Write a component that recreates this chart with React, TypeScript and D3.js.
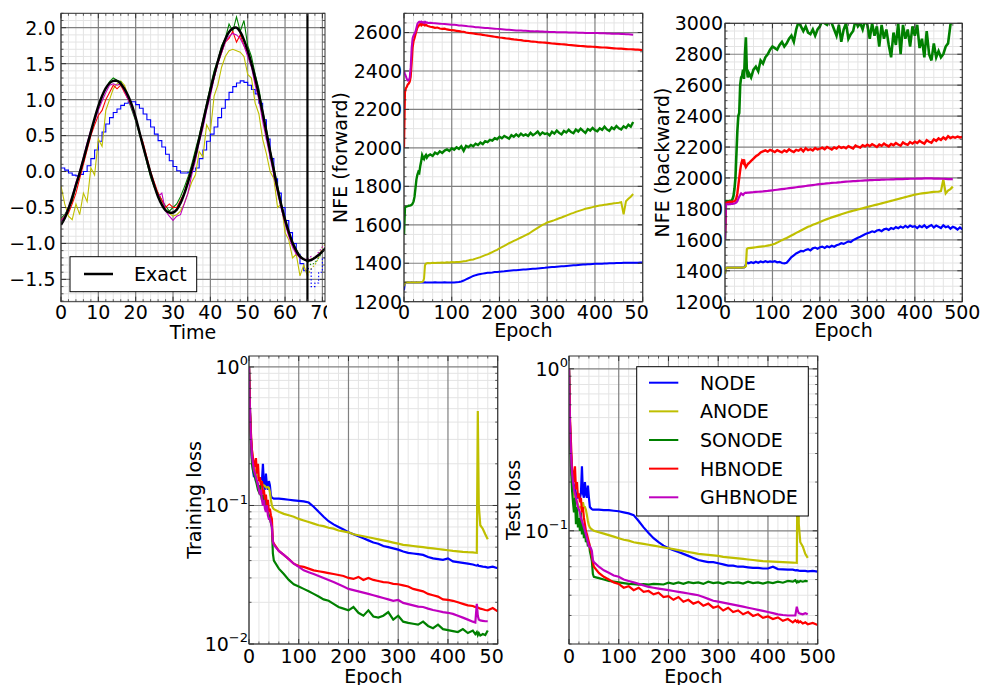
import React from 'react';
import * as d3 from 'd3';

const FONT = "'DejaVu Sans', sans-serif";
const NAMES = ['NODE', 'ANODE', 'SONODE', 'HBNODE', 'GHBNODE'];
const COLORS = ['#0000ff', '#bfbf00', '#008000', '#ff0000', '#bf00bf'];

// ---------- Panel 1: time series ----------
const TIME_STEPS = [0,1,2,3,4,5,6,7,8,9,10,11,12,13,14,15,16,17,18,19,20,21,22,23,24,25,26,27,28,29,30,31,32,33,34,35,36,37,38,39,40,41,42,43,44,45,46,47,48,49,50,51,52,53,54,55,56,57,58,59,60,61,62,63,64,65,66,67,68,69,70,71];
const EXTRAP_START = 66;
const EXACT = [-0.74,-0.65,-0.52,-0.36,-0.19,-0.02,0.17,0.36,0.55,0.74,0.91,1.05,1.16,1.23,1.26,1.26,1.22,1.15,1.05,0.92,0.75,0.55,0.35,0.16,-0.03,-0.2,-0.35,-0.46,-0.54,-0.57,-0.57,-0.53,-0.44,-0.31,-0.15,0.03,0.23,0.45,0.68,0.91,1.13,1.34,1.53,1.7,1.84,1.94,1.99,2.0,1.94,1.83,1.68,1.5,1.3,1.07,0.82,0.55,0.28,0.02,-0.24,-0.47,-0.67,-0.84,-0.99,-1.1,-1.18,-1.22,-1.24,-1.23,-1.2,-1.16,-1.11,-1.06];
const NODE_T = [0.05,0.02,-0.02,-0.05,-0.06,-0.04,0.0,0.08,0.18,0.3,0.42,0.55,0.66,0.75,0.82,0.87,0.92,0.95,0.97,0.97,0.93,0.88,0.8,0.72,0.62,0.52,0.43,0.34,0.24,0.15,0.07,0.01,-0.02,-0.02,-0.01,0.0,0.05,0.18,0.3,0.42,0.52,0.62,0.75,0.88,1.0,1.1,1.18,1.23,1.26,1.24,1.2,1.14,1.08,0.95,0.72,0.45,0.18,-0.1,-0.3,-0.5,-0.68,-0.85,-1.0,-1.15,-1.28,-1.38,-1.35,-1.6,-1.55,-1.4,-1.2,-1.1];
const ANODE_T = [-0.2,-0.45,-0.62,-0.67,-0.45,-0.6,-0.3,-0.42,0.05,-0.05,0.45,0.35,0.85,1.0,1.15,1.22,1.26,1.2,1.05,0.9,0.74,0.55,0.35,0.15,-0.05,-0.22,-0.35,-0.45,-0.53,-0.58,-0.62,-0.6,-0.55,-0.45,-0.3,-0.15,-0.05,0.28,0.2,0.65,0.55,1.05,1.2,1.45,1.6,1.68,1.7,1.68,1.66,1.6,1.35,1.3,0.95,0.8,0.45,0.25,0.0,-0.1,-0.5,-0.45,-0.85,-0.95,-1.2,-1.15,-1.45,-1.3,-1.45,-1.35,-1.3,-1.2,-1.05,-1.0];
const SONODE_T = [-0.65,-0.6,-0.5,-0.42,-0.2,-0.05,0.15,0.35,0.55,0.72,0.9,1.05,1.15,1.25,1.3,1.27,1.25,1.14,1.0,0.85,0.7,0.52,0.33,0.12,-0.08,-0.22,-0.3,-0.4,-0.48,-0.55,-0.5,-0.45,-0.35,-0.22,-0.08,0.1,0.3,0.5,0.72,0.95,1.18,1.4,1.55,1.75,1.85,2.05,1.95,2.15,1.95,2.1,1.75,1.6,1.35,1.15,0.85,0.6,0.3,0.05,-0.2,-0.45,-0.65,-0.85,-0.98,-1.08,-1.18,-1.22,-1.25,-1.3,-1.27,-1.2,-1.12,-1.05];
const HBNODE_T = [-0.68,-0.62,-0.58,-0.45,-0.3,-0.1,0.1,0.3,0.5,0.65,0.78,0.85,1.0,1.1,1.2,1.15,1.2,1.1,1.0,0.9,0.75,0.55,0.4,0.2,0.0,-0.15,-0.3,-0.4,-0.5,-0.45,-0.5,-0.5,-0.4,-0.3,-0.12,0.05,0.25,0.45,0.7,0.9,1.1,1.3,1.5,1.65,1.8,1.85,1.95,1.8,1.9,1.75,1.65,1.5,1.25,1.05,0.8,0.5,0.25,0.0,-0.25,-0.5,-0.7,-0.88,-1.02,-1.12,-1.2,-1.22,-1.23,-1.22,-1.2,-1.15,-1.1,-1.05];
const GHBNODE_T = [-0.7,-0.62,-0.5,-0.35,-0.15,0.0,0.2,0.4,0.58,0.7,0.85,0.98,1.1,1.2,1.22,1.2,1.22,1.12,1.0,0.88,0.72,0.55,0.35,0.15,-0.05,-0.2,-0.35,-0.3,-0.55,-0.62,-0.68,-0.62,-0.6,-0.45,-0.3,-0.05,0.15,0.4,0.6,0.85,1.05,1.3,1.5,1.65,1.8,1.88,1.92,1.9,1.85,1.75,1.6,1.45,1.2,1.0,0.7,0.45,0.2,-0.05,-0.3,-0.52,-0.72,-0.9,-1.05,-1.15,-1.2,-1.22,-1.22,-1.18,-1.2,-1.12,-1.05,-1.02];
const TIME_X_TICKS = [0,10,20,30,40,50,60,70];
const TIME_Y_TICKS = [-1.5,-1.0,-0.5,0.0,0.5,1.0,1.5,2.0];

// ---------- Panels 2-3: NFE ----------
const NFE_EPOCHS = [0,2,4,6,8,10,12,14,16,18,20,22,24,26,28,30,32,34,36,38,40,42,44,46,48,50,55,60,65,70,75,80,85,90,95,100,105,110,115,120,125,130,135,140,145,150,155,160,165,170,175,180,185,190,195,200,205,210,215,220,225,230,235,240,245,250,255,260,265,270,275,280,285,290,295,300,305,310,315,320,325,330,335,340,345,350,355,360,365,370,375,380,385,390,395,400,405,410,415,420,425,430,435,440,445,450,455,460,465,470,475,480,485,490,495,500];

const FWD_NODE = [1260,1300,1300,1300,1301,1300,1300,1300,1301,1300,1300,1300,1300,1301,1300,1300,1300,1300,1301,1300,1300,1300,1301,1300,1300,1300,
1300,1300,1301,1300,1300,1300,1301,1300,1300,1300,
1300,1301,1302,1305,1310,1316,1322,1328,1334,1338,
1341,1344,1346,1348,1350,1351,1352,1354,1355,1356,
1357,1358,1360,1361,1362,1363,1364,1365,1366,1367,
1368,1369,1370,1371,1372,1373,1374,1375,1376,1378,
1379,1380,1381,1382,1383,1384,1385,1386,1387,1388,
1389,1390,1391,1392,1393,1394,1395,1395,1396,1397,
1397,1398,1398,1399,1399,1400,1400,1400,1401,1401,
1401,1402,1402,1402,1403,1403,1403,1403,1404,1404];
const FWD_ANODE = [1280,1300,1300,1301,1300,1301,1300,1300,1301,1300,1301,1300,1300,1301,1300,1301,1300,1301,1302,1303,1305,1320,1390,1398,1400,1401,
1400,1402,1401,1403,1402,1404,1403,1405,1404,1406,
1405,1407,1406,1408,1410,1412,1415,1418,1420,1424,
1428,1432,1437,1442,1446,1452,1458,1464,1470,1478,
1484,1490,1497,1504,1510,1516,1522,1528,1534,1540,
1546,1552,1560,1568,1576,1584,1592,1600,1605,1612,
1616,1620,1624,1629,1634,1638,1643,1648,1653,1658,
1662,1667,1671,1675,1679,1683,1686,1689,1692,1695,
1698,1700,1702,1704,1706,1708,1710,1712,1713,1715,
1718,1655,1722,1735,1746,1760];
const FWD_SONODE = [1550,1690,1694,1696,1697,1699,1700,1701,1704,1710,1722,1745,1790,1835,1860,1875,1870,1905,1930,1962,1950,1942,1956,1963,1950,1958,
1966,1958,1975,1968,1982,1974,1986,1992,1984,1998,
1990,2003,1995,2008,1985,2010,2004,2015,2008,2022,
2015,2028,2020,2035,2030,2042,2038,2050,2045,2058,
2050,2062,2055,2048,2066,2058,2070,2060,2074,2064,
2070,2062,2078,2066,2074,2085,2068,2080,2072,2076,
2065,2084,2074,2090,2078,2070,2088,2080,2094,2082,
2076,2095,2085,2100,2088,2078,2098,2090,2104,2092,
2086,2102,2094,2110,2096,2088,2106,2098,2114,2102,
2096,2112,2104,2120,2110,2135];
const FWD_HBNODE = [2000,2290,2310,2318,2330,2335,2345,2370,2440,2520,2555,2570,2590,2608,2625,2632,2640,2645,2638,2646,2640,2644,2637,2641,2636,2634,
2630,2628,2624,2626,2621,2619,2620,2616,2614,2612,
2611,2609,2607,2605,2604,2600,2598,2597,2595,2593,
2591,2590,2588,2586,2584,2582,2580,2578,2576,2574,
2573,2571,2569,2568,2566,2564,2563,2561,2560,2558,
2557,2556,2554,2553,2552,2550,2549,2548,2547,2546,
2545,2543,2542,2541,2540,2539,2538,2537,2535,2534,
2533,2532,2531,2530,2529,2528,2527,2527,2526,2525,
2524,2523,2522,2522,2521,2520,2519,2518,2517,2516,
2516,2515,2514,2513,2513,2512,2511,2511,2510,2509];
const FWD_GHBNODE = [2400,2385,2372,2358,2350,2352,2365,2420,2520,2570,2585,2595,2605,2625,2645,2652,2656,2654,2657,2652,2655,2650,2656,2651,2653,2650,
2651,2649,2648,2647,2646,2645,2644,2643,2642,2641,
2640,2639,2637,2636,2635,2634,2632,2631,2630,2628,
2627,2626,2625,2624,2623,2622,2621,2620,2619,2618,
2617,2616,2615,2614,2613,2612,2611,2611,2610,2609,
2609,2608,2607,2607,2606,2606,2605,2605,2604,2604,
2603,2603,2603,2602,2602,2601,2601,2601,2600,2600,
2600,2600,2599,2599,2599,2598,2598,2598,2597,2597,
2597,2596,2596,2596,2595,2595,2594,2594,2593,2593,
2592,2592,2591,2591,2590,2589];

const BWD_NODE = [1380,1418,1420,1420,1421,1420,1420,1421,1420,1420,1421,1420,1420,1421,1420,1420,1421,1420,1420,1421,1422,1425,1440,1450,1452,1448,
1455,1450,1458,1452,1460,1455,1462,1456,1460,1458,
1462,1455,1458,1450,1448,1452,1470,1488,1500,1512,
1520,1528,1525,1535,1540,1532,1545,1550,1542,1552,
1556,1548,1558,1552,1562,1555,1565,1570,1578,1574,
1582,1590,1586,1598,1606,1614,1620,1628,1636,1642,
1648,1655,1650,1660,1664,1656,1668,1672,1664,1676,
1670,1682,1675,1686,1678,1690,1680,1692,1684,1688,
1676,1690,1682,1694,1678,1688,1696,1680,1692,1684,
1676,1694,1682,1688,1672,1684,1678,1666,1680,1668];
const BWD_ANODE = [1380,1418,1420,1420,1421,1420,1420,1421,1420,1420,1421,1420,1420,1421,1420,1420,1421,1420,1420,1421,1422,1425,1430,1540,1545,1546,
1548,1550,1552,1554,1556,1558,1560,1563,1566,1570,
1575,1582,1590,1598,1605,1612,1620,1628,1636,1645,
1652,1660,1668,1676,1684,1690,1697,1703,1709,1715,
1722,1728,1734,1740,1745,1750,1755,1760,1765,1770,
1775,1780,1784,1788,1792,1796,1800,1804,1808,1812,
1816,1820,1824,1828,1832,1836,1840,1844,1848,1852,
1856,1860,1864,1868,1872,1876,1880,1884,1888,1892,
1895,1898,1900,1902,1904,1906,1908,1910,1911,1912,
1915,1990,1900,1918,1928,1944];
const BWD_SONODE = [1600,1850,1850,1851,1850,1852,1851,1855,1865,1885,1930,2000,2150,2300,2400,2420,2600,2650,2660,2700,2640,2800,2910,2700,2650,2680,
2650,2700,2720,2690,2760,2740,2780,2800,2830,2850,
2840,2830,2860,2880,2850,2870,2900,2920,2880,2960,
3010,2980,2950,2980,2940,2930,2960,2920,2960,2980,
3020,3000,2990,3020,3000,2960,2920,2990,2880,2960,
3000,2900,2930,2950,3020,2980,3000,2960,3020,2990,
2900,3000,2920,2980,2850,2990,2900,2960,2860,2780,
2940,2860,3000,2800,2990,2900,2960,2850,2980,2920,
2990,2840,2900,2780,2950,2800,2760,2870,2780,2820,
2780,2800,2850,2870,2990,3050];
const BWD_HBNODE = [1650,1840,1843,1845,1844,1846,1845,1847,1846,1848,1850,1855,1870,1900,1950,2000,2050,2090,2110,2100,2120,2085,2070,2080,2090,2095,
2110,2125,2140,2150,2165,2172,2178,2170,2182,2175,
2168,2180,2172,2165,2178,2170,2185,2175,2168,2182,
2176,2188,2172,2192,2180,2186,2178,2194,2184,2190,
2196,2186,2200,2192,2184,2198,2190,2204,2194,2200,
2192,2206,2198,2190,2210,2202,2196,2212,2204,2215,
2206,2218,2210,2200,2216,2208,2222,2212,2204,2220,
2212,2226,2216,2208,2230,2220,2214,2232,2222,2234,
2226,2240,2230,2222,2244,2234,2228,2250,2240,2256,
2246,2262,2250,2270,2258,2266,2260,2268,2262,2265];
const BWD_GHBNODE = [1600,1830,1830,1831,1830,1832,1831,1833,1832,1834,1835,1838,1842,1850,1865,1878,1890,1900,1895,1890,1898,1903,1905,1904,1906,1905,
1907,1908,1910,1911,1912,1913,1915,1916,1918,1920,
1922,1924,1926,1928,1930,1932,1934,1936,1938,1940,
1942,1944,1946,1948,1950,1952,1954,1956,1958,1960,
1962,1963,1965,1966,1968,1969,1970,1972,1973,1975,
1976,1977,1978,1979,1980,1981,1982,1983,1984,1985,
1986,1986,1987,1988,1988,1989,1989,1990,1990,1991,
1991,1992,1992,1993,1993,1994,1994,1995,1995,1995,
1996,1996,1996,1997,1997,1997,1997,1996,1996,1996,
1995,1995,1994,1993,1992,1992];
const EPOCH_TICKS = [0,100,200,300,400,500];
const FWD_Y_TICKS = [1200,1400,1600,1800,2000,2200,2400,2600];
const BWD_Y_TICKS = [1200,1400,1600,1800,2000,2200,2400,2600,2800,3000];

// ---------- Panels 4-5: losses ----------
const LOSS_EPOCHS = [0,2,4,6,8,10,12,14,16,18,20,22,24,26,28,30,32,34,36,38,40,42,44,46,48,50,60,70,80,90,100,110,120,130,140,150,160,170,180,190,200,210,220,230,240,250,260,270,280,290,300,310,320,330,340,350,360,370,380,390,400,410,420,430,440,450,455,458,460,462,465,470,475,480,490,500];

const TRAIN_NODE = [1.0,0.5,0.3,0.22,0.18,0.16,0.17,0.15,0.15,0.14,0.135,0.13,0.14,0.15,0.2,0.14,0.13,0.17,0.14,0.13,0.15,0.14,0.118,0.114,0.113,0.112,
0.112,0.111,0.11,0.109,0.108,0.107,0.105,0.098,0.09,0.083,0.077,0.073,0.07,0.067,0.064,0.062,0.06,0.058,0.056,0.054,0.053,0.051,0.05,0.049,0.048,0.0465,0.0455,0.045,0.0445,0.044,0.0425,0.0415,0.041,0.0405,0.0415,0.0395,0.039,0.0385,0.038,
0.0375,0.037,0.0368,0.0372,0.0366,0.0365,0.0362,0.036,0.0356,0.0362,0.0352];
const TRAIN_ANODE = [1.0,0.45,0.3,0.25,0.21,0.19,0.18,0.17,0.165,0.16,0.155,0.15,0.15,0.145,0.14,0.14,0.138,0.135,0.135,0.136,0.134,0.125,0.11,0.1,0.096,0.094,
0.09,0.087,0.085,0.083,0.08,0.078,0.076,0.074,0.072,0.071,0.069,0.068,0.066,0.065,0.064,0.062,0.061,0.06,0.059,0.058,0.057,0.056,0.055,0.054,0.053,0.052,0.0515,0.051,0.0505,0.05,0.0495,0.049,0.0485,0.048,0.0475,0.047,0.0467,0.0463,0.046,
0.0458,0.0456,0.0455,0.48,0.1,0.072,0.068,0.062,0.057];
const TRAIN_SONODE = [1.0,0.45,0.28,0.2,0.18,0.17,0.16,0.15,0.14,0.13,0.125,0.14,0.12,0.11,0.12,0.105,0.11,0.1,0.095,0.09,0.085,0.08,0.075,0.07,0.045,0.04,
0.035,0.032,0.029,0.027,0.026,0.025,0.024,0.023,0.022,0.021,0.0205,0.0195,0.0185,0.018,0.0175,0.0185,0.0168,0.016,0.0175,0.0158,0.0155,0.016,0.017,0.015,0.016,0.0145,0.0142,0.014,0.0138,0.0145,0.0135,0.013,0.0138,0.0128,0.0126,0.0124,0.0122,0.0128,0.012,
0.0125,0.0118,0.0122,0.0116,0.012,0.0115,0.0118,0.0116,0.0125];
const TRAIN_HBNODE = [1.0,0.5,0.33,0.25,0.22,0.2,0.19,0.22,0.17,0.2,0.15,0.16,0.14,0.15,0.12,0.13,0.11,0.12,0.1,0.11,0.09,0.095,0.085,0.08,0.055,0.053,
0.047,0.044,0.041,0.038,0.0365,0.036,0.035,0.034,0.0335,0.033,0.0325,0.032,0.0315,0.031,0.03,0.0295,0.0305,0.029,0.03,0.029,0.0285,0.028,0.0278,0.0272,0.027,0.0265,0.026,0.025,0.0245,0.024,0.023,0.0225,0.022,0.021,0.0208,0.0205,0.02,0.0195,0.019,
0.0188,0.0185,0.0186,0.0183,0.0182,0.018,0.0178,0.0176,0.0175,0.0182,0.0172];
const TRAIN_GHBNODE = [1.0,0.45,0.3,0.23,0.2,0.18,0.17,0.16,0.15,0.14,0.13,0.12,0.13,0.11,0.1,0.11,0.095,0.09,0.1,0.085,0.08,0.08,0.075,0.07,0.055,0.052,
0.047,0.044,0.041,0.038,0.036,0.034,0.033,0.032,0.031,0.03,0.029,0.028,0.027,0.026,0.025,0.0245,0.024,0.0235,0.023,0.0225,0.022,0.0215,0.021,0.0205,0.0208,0.0198,0.0194,0.019,0.0186,0.0185,0.018,0.0176,0.0173,0.017,0.0168,0.0165,0.016,0.0155,0.015,
0.0145,0.0143,0.0195,0.016,0.015,0.0148,0.0147,0.0146,0.0146];

const TEST_NODE = [1.0,0.45,0.3,0.22,0.2,0.19,0.18,0.17,0.16,0.16,0.165,0.16,0.17,0.25,0.17,0.16,0.2,0.17,0.16,0.19,0.16,0.14,0.138,0.136,0.135,0.135,
0.135,0.134,0.134,0.133,0.132,0.13,0.128,0.125,0.115,0.105,0.097,0.09,0.085,0.081,0.078,0.076,0.074,0.072,0.07,0.068,0.066,0.065,0.064,0.064,0.063,0.062,0.061,0.061,0.06,0.06,0.0595,0.059,0.059,0.0585,0.0585,0.06,0.058,0.0578,0.0575,
0.0575,0.057,0.0572,0.057,0.0568,0.0566,0.0565,0.0565,0.0562,0.0565,0.056];
const TEST_ANODE = [1.0,0.45,0.3,0.22,0.19,0.17,0.16,0.155,0.15,0.145,0.14,0.14,0.14,0.135,0.15,0.14,0.14,0.135,0.125,0.115,0.108,0.105,0.103,0.102,0.101,0.1,
0.098,0.096,0.094,0.092,0.09,0.088,0.087,0.085,0.084,0.083,0.082,0.081,0.08,0.079,0.078,0.077,0.076,0.075,0.074,0.073,0.072,0.0715,0.071,0.0705,0.07,0.069,0.0685,0.068,0.0675,0.067,0.0665,0.066,0.0655,0.065,0.0648,0.0645,0.0642,0.064,0.0638,
0.0636,0.0635,0.0634,0.5,0.11,0.085,0.08,0.072,0.068];
const TEST_SONODE = [1.0,0.4,0.25,0.18,0.15,0.13,0.16,0.11,0.14,0.105,0.12,0.1,0.13,0.095,0.11,0.09,0.1,0.085,0.09,0.08,0.085,0.075,0.07,0.065,0.054,0.052,
0.051,0.05,0.049,0.0485,0.048,0.0475,0.047,0.0468,0.0465,0.0468,0.0465,0.047,0.0468,0.0466,0.0478,0.047,0.048,0.047,0.0482,0.0475,0.048,0.047,0.0485,0.0475,0.048,0.047,0.0482,0.0476,0.048,0.0472,0.0485,0.0475,0.048,0.0472,0.0482,0.0476,0.0485,0.0478,0.049,
0.0485,0.0495,0.048,0.0488,0.0482,0.049,0.0485,0.049,0.0488];
const TEST_HBNODE = [1.0,0.5,0.35,0.25,0.22,0.2,0.25,0.18,0.2,0.16,0.17,0.15,0.16,0.13,0.14,0.12,0.11,0.1,0.095,0.09,0.085,0.08,0.075,0.07,0.064,0.06,
0.055,0.052,0.05,0.048,0.047,0.0445,0.0455,0.043,0.0445,0.042,0.0425,0.0405,0.0415,0.039,0.0395,0.0375,0.039,0.0365,0.0375,0.0355,0.0365,0.0345,0.0355,0.0335,0.0342,0.0322,0.0335,0.0315,0.0322,0.0305,0.0315,0.0298,0.0305,0.029,0.0296,0.0285,0.0292,0.0278,0.0285,
0.0272,0.028,0.0274,0.0278,0.0272,0.0276,0.0268,0.0272,0.0265,0.027,0.0262];
const TEST_GHBNODE = [1.0,0.45,0.3,0.23,0.2,0.18,0.17,0.16,0.15,0.14,0.135,0.13,0.12,0.115,0.11,0.105,0.1,0.095,0.09,0.085,0.08,0.08,0.078,0.075,0.066,0.064,
0.06,0.057,0.055,0.053,0.052,0.05,0.049,0.048,0.047,0.046,0.045,0.0445,0.044,0.0435,0.043,0.0425,0.042,0.0415,0.041,0.0405,0.04,0.039,0.038,0.037,0.0365,0.036,0.0355,0.035,0.0345,0.034,0.0335,0.033,0.0325,0.032,0.0315,0.031,0.0305,0.0302,0.03,
0.03,0.03,0.034,0.032,0.031,0.0308,0.0305,0.031,0.0305];
const LOSS_Y_TICKS = [0.01, 0.1, 1];

// ---------- helpers ----------
type Scale = (v: number) => number;

function pathOf(xv: number[], yv: number[], xs: Scale, ys: Scale, curve: any = d3.curveLinear, from = 0, to?: number) {
  const n = Math.min(xv.length, yv.length);
  const end = to === undefined ? n : Math.min(to, n);
  const idx = d3.range(from, end);
  return d3.line<number>().x((i) => xs(xv[i])).y((i) => ys(yv[i])).curve(curve)(idx) || '';
}

function logMinors(lo: number, hi: number) {
  const out: number[] = [];
  for (let e = -3; e <= 1; e++) {
    for (let k = 2; k <= 9; k++) {
      const v = k * Math.pow(10, e);
      if (v >= lo * 0.9999 && v <= hi) out.push(v);
    }
  }
  return out;
}

type FrameProps = {
  id: string;
  l: number; t: number; r: number; b: number;
  xs: Scale; ys: Scale;
  xMajor: number[]; xMinor: number[]; yMajor: number[]; yMinor: number[];
  xTicks: number[]; xFmt: (v: number) => string; xTickBase: number; xClipRight?: number;
  yTicks: number[]; yLabel: (v: number) => React.ReactNode; yTickEnd: number;
  xTitle: string; xTitleBase: number;
  yTitle?: string; yTitleX?: number;
  children?: React.ReactNode;
  overlay?: React.ReactNode;
};

function Frame(p: FrameProps) {
  const { id, l, t, r, b, xs, ys } = p;
  const majorC = '#808080';
  const minorC = '#e4e4e4';
  return (
    <g>
      <defs>
        <clipPath id={`clip-${id}`}>
          <rect x={l} y={t} width={r - l} height={b - t} />
        </clipPath>
        <clipPath id={`xclip-${id}`}>
          <rect x={0} y={b} width={p.xClipRight ?? 2000} height={60} />
        </clipPath>
      </defs>
      <rect x={l} y={t} width={r - l} height={b - t} fill="#ffffff" />
      {p.xMinor.map((v) => (
        <line key={`xm${v}`} x1={xs(v)} x2={xs(v)} y1={t} y2={b} stroke={minorC} strokeWidth={1} />
      ))}
      {p.yMinor.map((v) => (
        <line key={`ym${v}`} x1={l} x2={r} y1={ys(v)} y2={ys(v)} stroke={minorC} strokeWidth={1} />
      ))}
      {p.xMajor.map((v) => (
        <line key={`xM${v}`} x1={xs(v)} x2={xs(v)} y1={t} y2={b} stroke={majorC} strokeWidth={1.2} />
      ))}
      {p.yMajor.map((v) => (
        <line key={`yM${v}`} x1={l} x2={r} y1={ys(v)} y2={ys(v)} stroke={majorC} strokeWidth={1.2} />
      ))}
      <g clipPath={`url(#clip-${id})`}>{p.children}</g>
      <rect x={l} y={t} width={r - l} height={b - t} fill="none" stroke="#333" strokeWidth={1} />
      {p.xMinor.map((v) => (
        <g key={`xmt${v}`}>
          <line x1={xs(v)} x2={xs(v)} y1={b} y2={b - 2.5} stroke="#333" strokeWidth={0.8} />
          <line x1={xs(v)} x2={xs(v)} y1={t} y2={t + 2.5} stroke="#333" strokeWidth={0.8} />
        </g>
      ))}
      {p.yMinor.map((v) => (
        <g key={`ymt${v}`}>
          <line x1={l} x2={l + 2.5} y1={ys(v)} y2={ys(v)} stroke="#333" strokeWidth={0.8} />
          <line x1={r} x2={r - 2.5} y1={ys(v)} y2={ys(v)} stroke="#333" strokeWidth={0.8} />
        </g>
      ))}
      {p.xMajor.map((v) => (
        <g key={`xMt${v}`}>
          <line x1={xs(v)} x2={xs(v)} y1={b} y2={b - 5} stroke="#333" strokeWidth={1} />
          <line x1={xs(v)} x2={xs(v)} y1={t} y2={t + 5} stroke="#333" strokeWidth={1} />
        </g>
      ))}
      {p.yMajor.map((v) => (
        <g key={`yMt${v}`}>
          <line x1={l} x2={l + 5} y1={ys(v)} y2={ys(v)} stroke="#333" strokeWidth={1} />
          <line x1={r} x2={r - 5} y1={ys(v)} y2={ys(v)} stroke="#333" strokeWidth={1} />
        </g>
      ))}
      {p.overlay}
      <g clipPath={`url(#xclip-${id})`}>
        {p.xTicks.map((v) => (
          <text key={`xt${v}`} x={xs(v)} y={p.xTickBase} textAnchor="middle" fontSize={19} fontFamily={FONT} fill="#000">
            {p.xFmt(v)}
          </text>
        ))}
      </g>
      {p.yTicks.map((v) => (
        <text key={`yt${v}`} x={p.yTickEnd} y={ys(v) + 6.9} textAnchor="end" fontSize={19} fontFamily={FONT} fill="#000">
          {p.yLabel(v)}
        </text>
      ))}
      <text x={(l + r) / 2} y={p.xTitleBase} textAnchor="middle" fontSize={19} fontFamily={FONT} fill="#000">
        {p.xTitle}
      </text>
      {p.yTitle && (
        <text transform={`translate(${p.yTitleX},${(t + b) / 2}) rotate(-90)`} textAnchor="middle" fontSize={19} fontFamily={FONT} fill="#000">
          {p.yTitle}
        </text>
      )}
    </g>
  );
}

const intFmt = (v: number) => String(v);
const logLabel = (v: number) => {
  const e = Math.round(Math.log10(v));
  return (
    <>
      <tspan>10</tspan>
      <tspan dy={-8.5} fontSize={13}>{e < 0 ? `\u2212${-e}` : `${e}`}</tspan>
    </>
  );
};

export default function App() {
  const p1 = { l: 61, t: 13.3, r: 325, b: 301.7 };
  const x1 = d3.scaleLinear().domain([0, 70.7]).range([p1.l, p1.r]);
  const y1 = d3.scaleLinear().domain([-1.81, 2.2]).range([p1.b, p1.t]);
  const fmt1 = d3.format('.1f');
  const models1 = [NODE_T, ANODE_T, SONODE_T, HBNODE_T, GHBNODE_T];
  const exIdx = TIME_STEPS.indexOf(EXTRAP_START);

  const p2 = { l: 404, t: 13.3, r: 642.7, b: 301.7 };
  const x2 = d3.scaleLinear().domain([0, 500]).range([p2.l, p2.r]);
  const y2 = d3.scaleLinear().domain([1200, 2700]).range([p2.b, p2.t]);
  const fwd = [FWD_NODE, FWD_ANODE, FWD_SONODE, FWD_HBNODE, FWD_GHBNODE];

  const p3 = { l: 725, t: 23.3, r: 962.3, b: 301.7 };
  const x3 = d3.scaleLinear().domain([0, 500]).range([p3.l, p3.r]);
  const y3 = d3.scaleLinear().domain([1200, 3000]).range([p3.b, p3.t]);
  const bwd = [BWD_NODE, BWD_ANODE, BWD_SONODE, BWD_HBNODE, BWD_GHBNODE];

  const p4 = { l: 249, t: 356, r: 497.7, b: 644 };
  const x4 = d3.scaleLinear().domain([0, 500]).range([p4.l, p4.r]);
  const y4 = d3.scaleLog().domain([0.01, 1.2]).range([p4.b, p4.t]);
  const train = [TRAIN_NODE, TRAIN_ANODE, TRAIN_SONODE, TRAIN_HBNODE, TRAIN_GHBNODE];

  const p5 = { l: 569, t: 356, r: 817.7, b: 644 };
  const x5 = d3.scaleLinear().domain([0, 500]).range([p5.l, p5.r]);
  const y5 = d3.scaleLog().domain([0.02, 1.2]).range([p5.b, p5.t]);
  const test = [TEST_NODE, TEST_ANODE, TEST_SONODE, TEST_HBNODE, TEST_GHBNODE];

  const epochMinor = d3.range(0, 501, 20).filter((v) => v % 100 !== 0);
  const legend5 = { x: 636.7, y: 366.7, w: 171.6, h: 149.3 };
  const nfeWidth = [2, 2, 2.4, 2.2, 2];

  return (
    <svg width={984} height={685} style={{ position: 'absolute', left: 0, top: 0, background: '#fff' }}>
      <rect x={0} y={0} width={984} height={685} fill="#fff" />

      <Frame
        id="p1" {...p1} xs={x1} ys={y1}
        xMajor={TIME_X_TICKS} xMinor={d3.range(0, 71, 2).filter((v) => v % 10 !== 0)}
        yMajor={TIME_Y_TICKS} yMinor={d3.range(-18, 23, 1).map((v) => v / 10).filter((v) => Math.abs(v * 2 - Math.round(v * 2)) > 1e-6)}
        xTicks={TIME_X_TICKS} xFmt={intFmt} xTickBase={318.5} xClipRight={327}
        yTicks={TIME_Y_TICKS} yLabel={(v) => fmt1(v)} yTickEnd={55.5}
        xTitle="Time" xTitleBase={338.5}
        overlay={
          <g>
            <rect x={70} y={256.7} width={126.7} height={35} fill="#fff" stroke="#000" strokeWidth={1} />
            <line x1={84} x2={113} y1={274} y2={274} stroke="#000" strokeWidth={2.5} />
            <text x={134} y={281} fontSize={19} fontFamily={FONT} fill="#000">Exact</text>
          </g>
        }
      >
        {models1.map((ys, k) => (
          <g key={`m1${k}`}>
            <path d={pathOf(TIME_STEPS, ys, x1, y1, k === 0 ? d3.curveStepAfter : d3.curveLinear, 0, exIdx + 1)} fill="none" stroke={COLORS[k]} strokeWidth={1.1} />
            <path d={pathOf(TIME_STEPS, ys, x1, y1, k === 0 ? d3.curveStepAfter : d3.curveLinear, exIdx)} fill="none" stroke={COLORS[k]} strokeWidth={1.1} strokeDasharray="1.5,2" />
          </g>
        ))}
        <path d={pathOf(TIME_STEPS, EXACT, x1, y1, d3.curveCatmullRom)} fill="none" stroke="#000" strokeWidth={2.5} />
        <line x1={x1(EXTRAP_START)} x2={x1(EXTRAP_START)} y1={p1.t} y2={p1.b} stroke="#000" strokeWidth={2.2} />
      </Frame>

      <Frame
        id="p2" {...p2} xs={x2} ys={y2}
        xMajor={EPOCH_TICKS} xMinor={epochMinor}
        yMajor={FWD_Y_TICKS} yMinor={d3.range(1250, 2701, 50).filter((v) => v % 200 !== 0)}
        xTicks={EPOCH_TICKS} xFmt={intFmt} xTickBase={318.5} xClipRight={649}
        yTicks={FWD_Y_TICKS} yLabel={(v) => String(v)} yTickEnd={402}
        xTitle="Epoch" xTitleBase={337}
        yTitle="NFE (forward)" yTitleX={347}
      >
        {fwd.map((ys, k) => (
          <path key={`f${k}`} d={pathOf(NFE_EPOCHS, ys, x2, y2)} fill="none" stroke={COLORS[k]} strokeWidth={nfeWidth[k]} />
        ))}
      </Frame>

      <Frame
        id="p3" {...p3} xs={x3} ys={y3}
        xMajor={EPOCH_TICKS} xMinor={epochMinor}
        yMajor={BWD_Y_TICKS} yMinor={d3.range(1250, 3000, 50).filter((v) => v % 200 !== 0)}
        xTicks={EPOCH_TICKS} xFmt={intFmt} xTickBase={318.5}
        yTicks={BWD_Y_TICKS} yLabel={(v) => String(v)} yTickEnd={723}
        xTitle="Epoch" xTitleBase={337}
        yTitle="NFE (backward)" yTitleX={669}
      >
        {bwd.map((ys, k) => (
          <path key={`b${k}`} d={pathOf(NFE_EPOCHS, ys, x3, y3)} fill="none" stroke={COLORS[k]} strokeWidth={nfeWidth[k] + 0.2} />
        ))}
      </Frame>

      <Frame
        id="p4" {...p4} xs={x4} ys={y4}
        xMajor={EPOCH_TICKS} xMinor={epochMinor}
        yMajor={LOSS_Y_TICKS} yMinor={logMinors(0.01, 1.2)}
        xTicks={EPOCH_TICKS} xFmt={intFmt} xTickBase={662.5} xClipRight={504}
        yTicks={LOSS_Y_TICKS} yLabel={logLabel} yTickEnd={248}
        xTitle="Epoch" xTitleBase={682.5}
        yTitle="Training loss" yTitleX={201}
      >
        {train.map((ys, k) => (
          <path key={`tr${k}`} d={pathOf(LOSS_EPOCHS, ys, x4, y4)} fill="none" stroke={COLORS[k]} strokeWidth={2.2} />
        ))}
      </Frame>

      <Frame
        id="p5" {...p5} xs={x5} ys={y5}
        xMajor={EPOCH_TICKS} xMinor={epochMinor}
        yMajor={[0.1, 1]} yMinor={logMinors(0.02, 1.2)}
        xTicks={EPOCH_TICKS} xFmt={intFmt} xTickBase={662.5}
        yTicks={[0.1, 1]} yLabel={logLabel} yTickEnd={568}
        xTitle="Epoch" xTitleBase={682.5}
        yTitle="Test loss" yTitleX={520}
        overlay={
          <g>
            <rect x={legend5.x} y={legend5.y} width={legend5.w} height={legend5.h} fill="#fff" stroke="#000" strokeWidth={1} />
            {NAMES.map((name, k) => {
              const cy = 382.7 + k * 28.65;
              return (
                <g key={`lg${name}`}>
                  <line x1={649} x2={678.3} y1={cy} y2={cy} stroke={COLORS[k]} strokeWidth={2} />
                  <text x={700} y={cy + 7} fontSize={19} fontFamily={FONT} fill="#000">{name}</text>
                </g>
              );
            })}
          </g>
        }
      >
        {test.map((ys, k) => (
          <path key={`te${k}`} d={pathOf(LOSS_EPOCHS, ys, x5, y5)} fill="none" stroke={COLORS[k]} strokeWidth={2.2} />
        ))}
      </Frame>
    </svg>
  );
}
